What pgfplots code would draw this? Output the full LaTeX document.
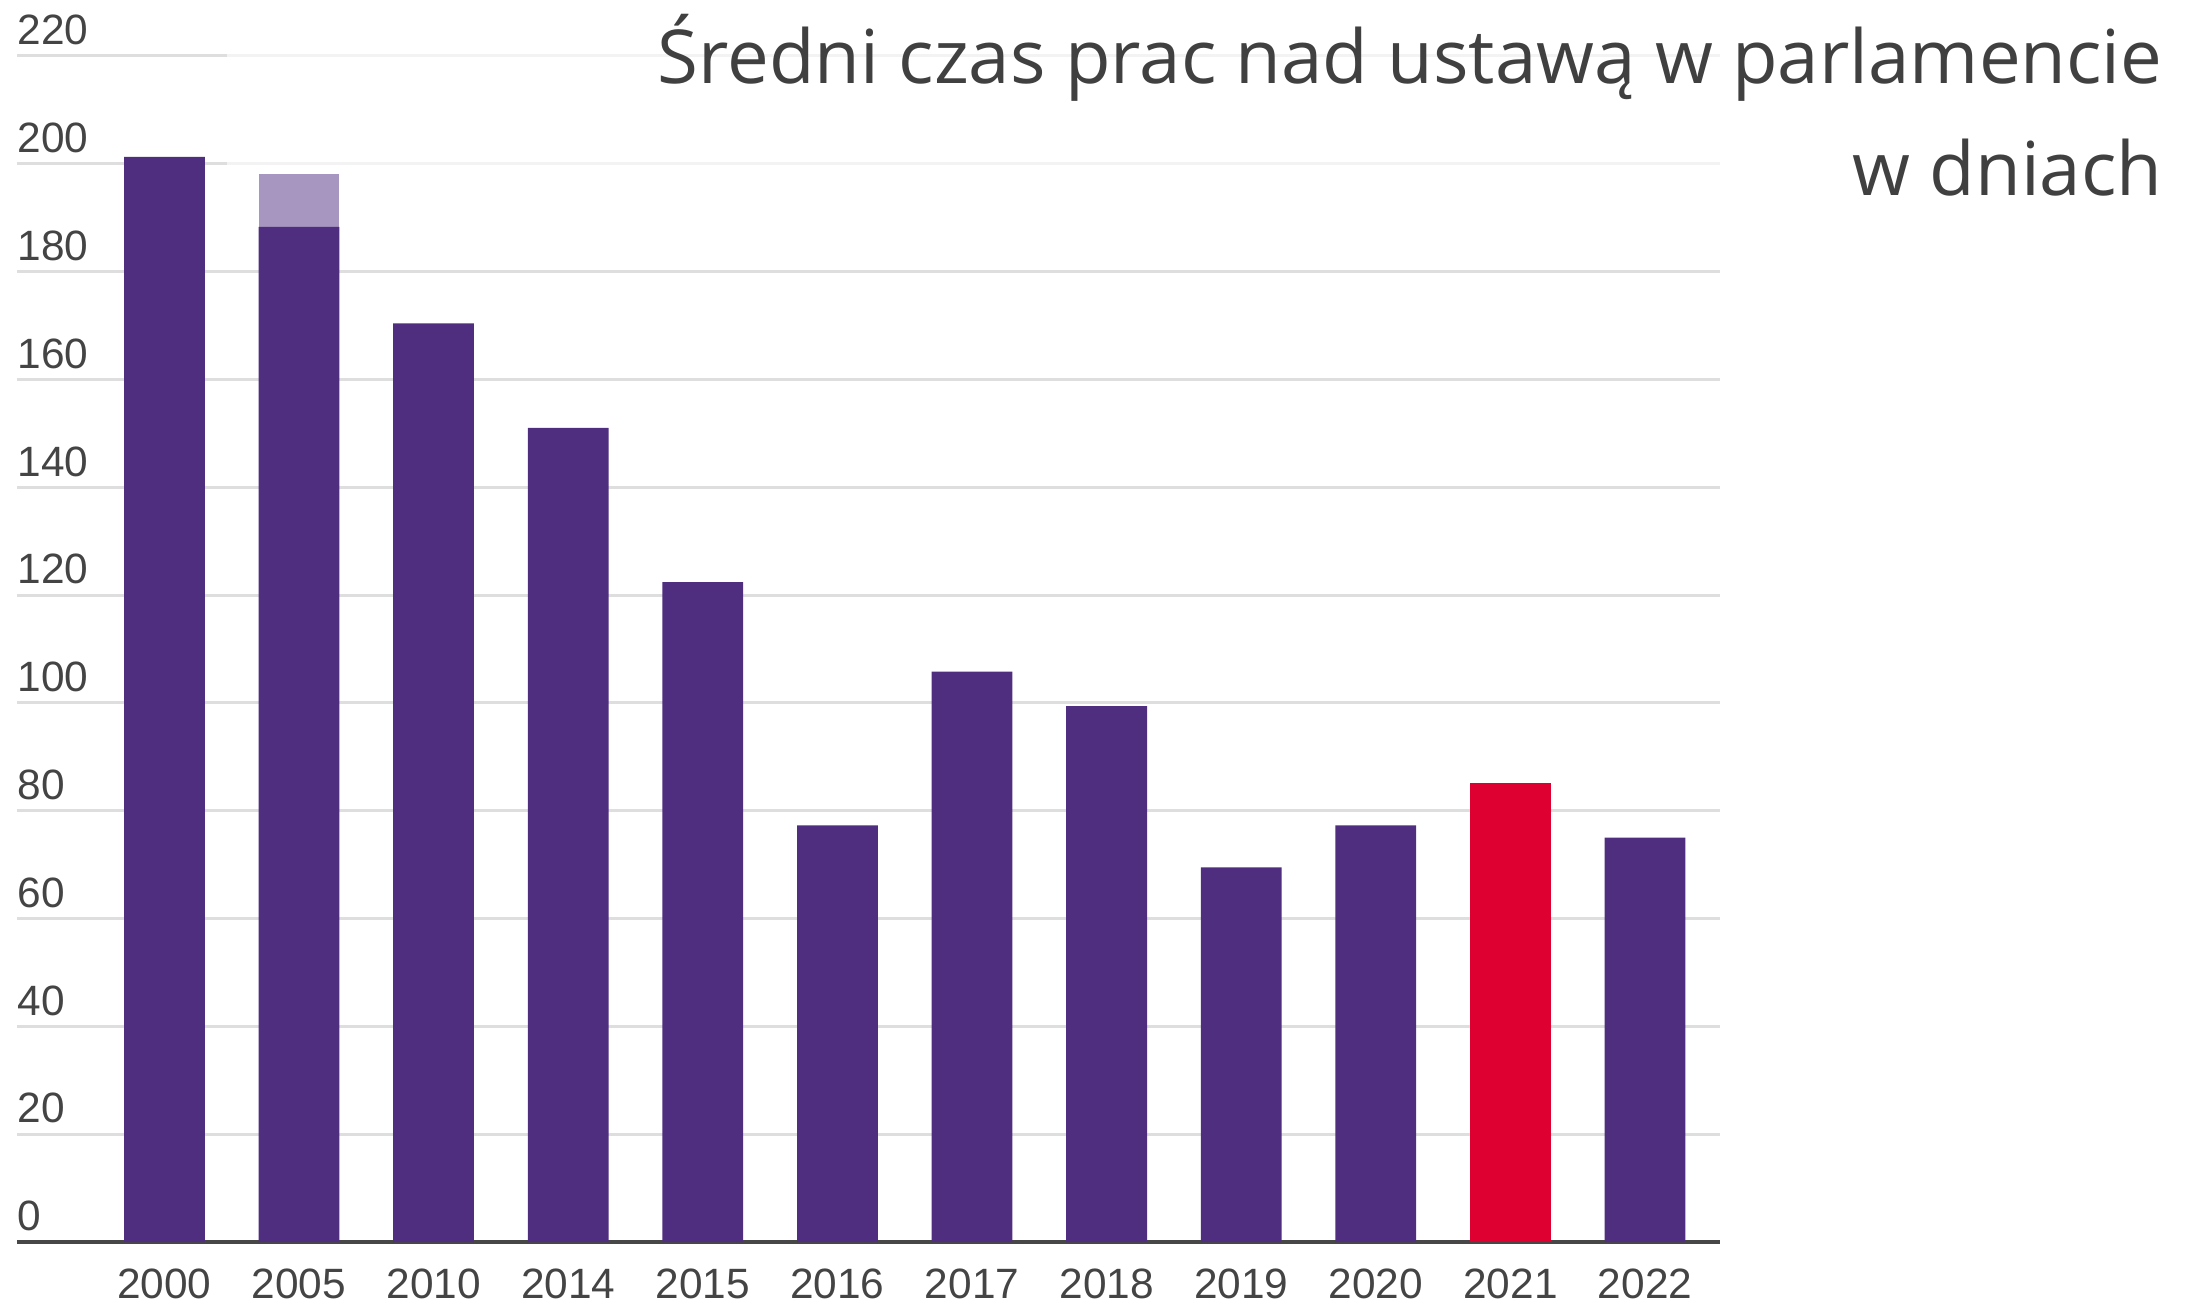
\documentclass[border=0pt]{standalone}
\usepackage{pgfplots}
\pgfplotsset{compat=1.18}
\usepackage{fontspec}
\setmainfont{Liberation Sans}
\newfontfamily\titlefont{Open Sans}
\definecolor{barpurple}{HTML}{4F2D7F}
\definecolor{lightpurple}{HTML}{A696C0}
\definecolor{barred}{HTML}{DE0030}
\definecolor{gridgrey}{HTML}{DEDEDE}
\definecolor{axisgrey}{HTML}{474747}
\definecolor{ticktext}{HTML}{444444}
\definecolor{titlegrey}{HTML}{404040}
\begin{document}
\begin{tikzpicture}[x=1pt,y=1pt]
\useasboundingbox (0,0) rectangle (548.5,326.5);
\begin{axis}[
  at={(4.25pt,16pt)}, anchor=south west,
  scale only axis, width=425.75pt, height=296.5pt,
  xmin=-1.095, xmax=11.557, ymin=0, ymax=220,
  clip=false,
  axis lines=left,
  y axis line style={draw=none},
  x axis line style={draw=axisgrey, line width=1.1pt, -},
  major tick length=0pt,
  ytick={0,20,...,220},
  xtick={0,...,11},
  xticklabels={2000,2005,2010,2014,2015,2016,2017,2018,2019,2020,2021,2022},
  ymajorgrids, major grid style={gridgrey, line width=0.75pt},
  yticklabel style={anchor=south west, inner sep=0pt, yshift=2.5pt, text=ticktext, font=\fontsize{10.6}{12}\selectfont},
  xticklabel style={anchor=north, inner sep=0pt, yshift=-6.5pt, text=ticktext, font=\fontsize{10.6}{12}\selectfont},
  /pgf/number format/assume math mode=true,
  ybar, bar width=0.6, bar shift=0pt,
]
\fill[white, opacity=0.65] (axis cs:0.465,199) rectangle (axis cs:11.557,222);
\addplot[fill=lightpurple, draw=none] coordinates {(1,198.2)};
\addplot[fill=barpurple, draw=none] coordinates {
(0,201.3) (1,188.3) (2,170.4) (3,151) (4,122.4) (5,77.3) (6,105.8) (7,99.4) (8,69.5) (9,77.3) (11,75)};
\addplot[fill=barred, draw=none] coordinates {(10,85.1)};
\end{axis}
\node[anchor=base east, inner sep=0pt, text=titlegrey, font=\titlefont\fontsize{18.6}{22}\selectfont] at (540.8,305.5) {Średni czas prac nad ustawą w parlamencie};
\node[anchor=base east, inner sep=0pt, text=titlegrey, font=\titlefont\fontsize{18.6}{22}\selectfont] at (540.8,277.5) {w dniach};
\end{tikzpicture}
\end{document}
